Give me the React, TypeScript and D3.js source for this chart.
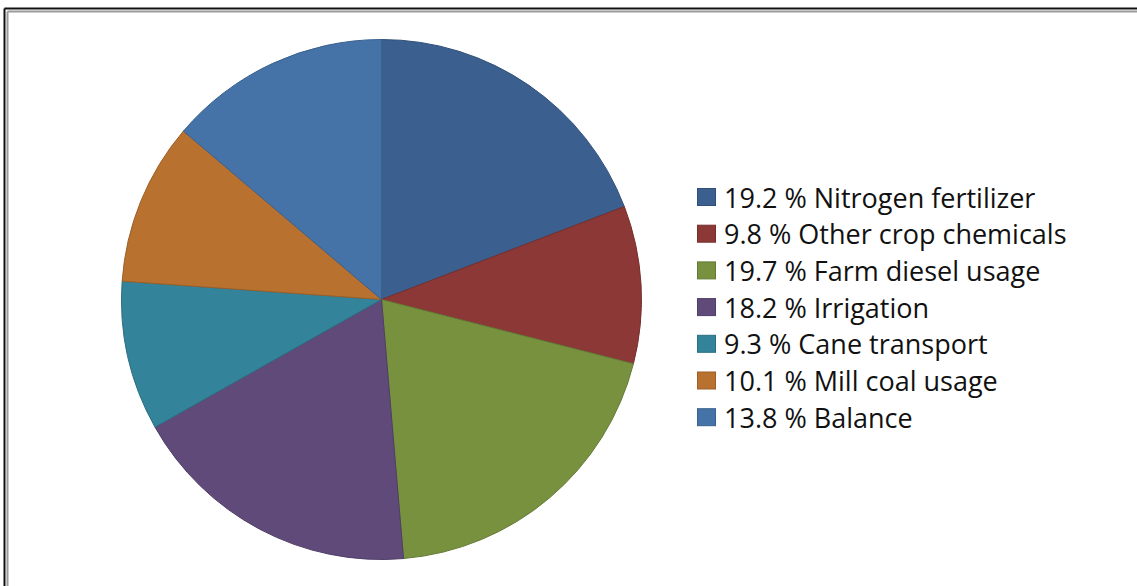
import React from "react";
import * as d3 from "d3";

const categories = [
  "Nitrogen fertilizer",
  "Other crop chemicals",
  "Farm diesel usage",
  "Irrigation",
  "Cane transport",
  "Mill coal usage",
  "Balance",
];
const values = [19.2, 9.8, 19.7, 18.2, 9.3, 10.1, 13.8];
const labels = ["19.2 %", "9.8 %", "19.7 %", "18.2 %", "9.3 %", "10.1 %", "13.8 %"];
const colors = ["#3B5F8F", "#8C3836", "#77913F", "#5F4A7A", "#33839A", "#B9712F", "#4573A8"];

export default function App() {
  const W = 1137, H = 586;
  const cx = 381.5, cy = 299.5, r = 260;
  const pie = d3.pie<number>().sort(null).value((d) => d);
  const arcs = pie(values);
  const arc = d3.arc<d3.PieArcDatum<number>>().innerRadius(0).outerRadius(r);
  const legendX = 697, legendY0 = 197, step = 36.7;
  return (
    <svg width={W} height={H} style={{ position: "absolute", left: 0, top: 0, background: "#fff" }}>
      <rect x={0} y={0} width={W} height={H} fill="#fff" />
      <line x1={4.5} y1={8.5} x2={W} y2={8.5} stroke="#111" strokeWidth={2} />
      <line x1={4.5} y1={8.5} x2={4.5} y2={H} stroke="#111" strokeWidth={2} />
      <line x1={7.5} y1={11.5} x2={W} y2={11.5} stroke="#999" strokeWidth={2} />
      <line x1={7.5} y1={11.5} x2={7.5} y2={H} stroke="#999" strokeWidth={2} />
      <g transform={`translate(${cx},${cy})`}>
        {arcs.map((a, i) => (
          <path
            key={i}
            d={arc(a) || ""}
            fill={colors[i]}
            stroke={d3.color(colors[i])!.darker(0.5).toString()}
            strokeWidth={1}
          />
        ))}
      </g>
      <g fontFamily="'Open Sans', sans-serif" fontSize={27} fill="#111">
        {categories.map((c, i) => {
          const y = legendY0 + i * step;
          return (
            <g key={c}>
              <rect
                x={legendX + 0.5}
                y={y - 8.5}
                width={18}
                height={17}
                fill={colors[i]}
                stroke={d3.color(colors[i])!.darker(0.5).toString()}
              />
              <text x={724} y={y} dominantBaseline="central">
                {labels[i]} {c}
              </text>
            </g>
          );
        })}
      </g>
    </svg>
  );
}
